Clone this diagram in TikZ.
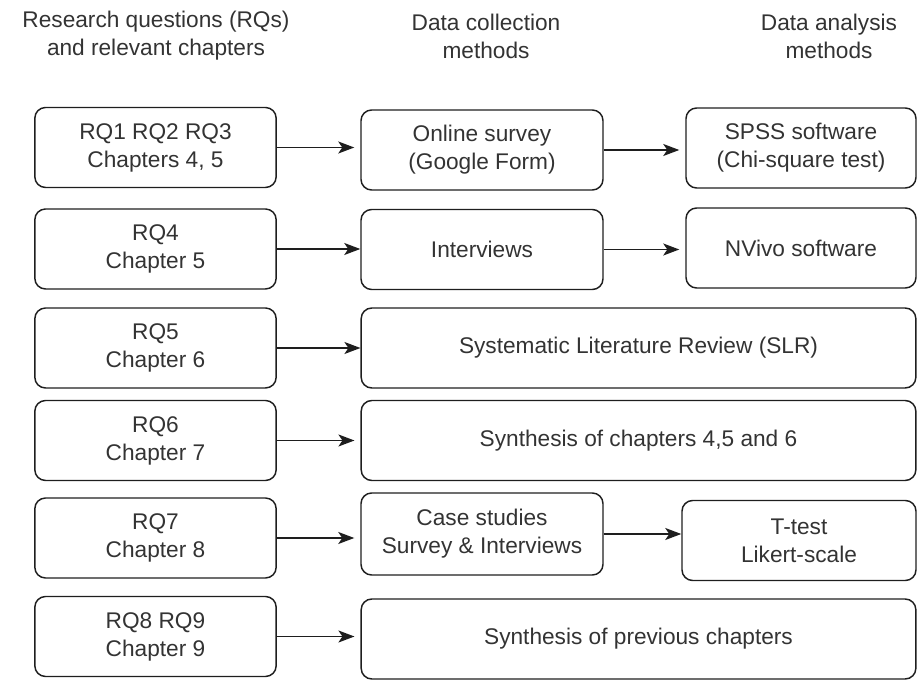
\documentclass[tikz,border=0pt]{standalone}
\usepackage{fontspec}
\setmainfont{Liberation Sans}
\usetikzlibrary{arrows.meta}
\definecolor{ink}{HTML}{1E1E1E}
\definecolor{label}{HTML}{333333}

\begin{document}
\begin{tikzpicture}[x=0.75pt,y=-0.75pt,every node/.style={font=\fontsize{17}{21}\selectfont,align=center,text=label},box/.style={draw=ink,line width=1.1pt,rounded corners=8pt,inner sep=0pt,minimum height=60pt},rq/.style={box,minimum width=181pt},meth/.style={box,minimum width=181.5pt},wide/.style={box,minimum width=416pt},tool/.style={box,minimum width=172.5pt},link/.style={-{Stealth[length=12pt,width=9pt,inset=3pt]},line width=1.1pt,draw=ink},gap/.style={shorten >=4.5pt}]
\useasboundingbox (0,0) rectangle (918,680);
% column heads
\node (headrq) at (156,36) {Research questions (RQs)\\and relevant chapters};
\node (headdata) at (486,36) {Data collection\\methods};
\node (headtool) at (829,36) {Data analysis\\methods};
% research questions
\node[rq] (rq1) at (155.5,147.5) {RQ1 RQ2 RQ3\\Chapters 4, 5};
\node[rq] (rq4) at (155.5,249) {RQ4\\Chapter 5};
\node[rq] (rq5) at (155.5,348) {RQ5\\Chapter 6};
\node[rq] (rq6) at (155.5,440.5) {RQ6\\Chapter 7};
\node[rq] (rq7) at (155.5,538) {RQ7\\Chapter 8};
\node[rq] (rq8) at (155.5,636.5) {RQ8 RQ9\\Chapter 9};
% data collection
\node[meth] (survey) at (482,150) {Online survey\\(Google Form)};
\node[meth] (interviews) at (482,249.5) {Interviews};
\node[wide] (slr) at (638.5,348) {Systematic Literature Review (SLR)};
\node[wide] (synth) at (638.5,440.5) {Synthesis of chapters 4,5 and 6};
\node[meth,minimum height=61.5pt] (cases) at (482,534) {Case studies\\Survey \& Interviews};
\node[wide] (prev) at (638.5,639) {Synthesis of previous chapters};
% data analysis
\node[tool] (spss) at (801,148) {SPSS software\\(Chi-square test)};
\node[tool] (nvivo) at (801,248) {NVivo software};
\node[tool,minimum width=175.5pt] (ttest) at (799,540.5) {T-test\\Likert-scale};
% arrows
\draw[link,gap] (rq1.east) -- (rq1.east -| survey.west);
\draw[link] (rq4.east) -- (rq4.east -| interviews.west);
\draw[link] (rq5.east) -- (rq5.east -| slr.west);
\draw[link,gap] (rq6.east) -- (rq6.east -| synth.west);
\draw[link,gap] (rq7.east) -- (rq7.east -| cases.west);
\draw[link,gap] (rq8.east) -- (rq8.east -| prev.west);
\draw[link,gap] (survey.east) -- (survey.east -| spss.west);
\draw[link,gap] (interviews.east) -- (interviews.east -| nvivo.west);
\draw[link] (cases.east) -- (cases.east -| ttest.west);
\end{tikzpicture}
\end{document}
